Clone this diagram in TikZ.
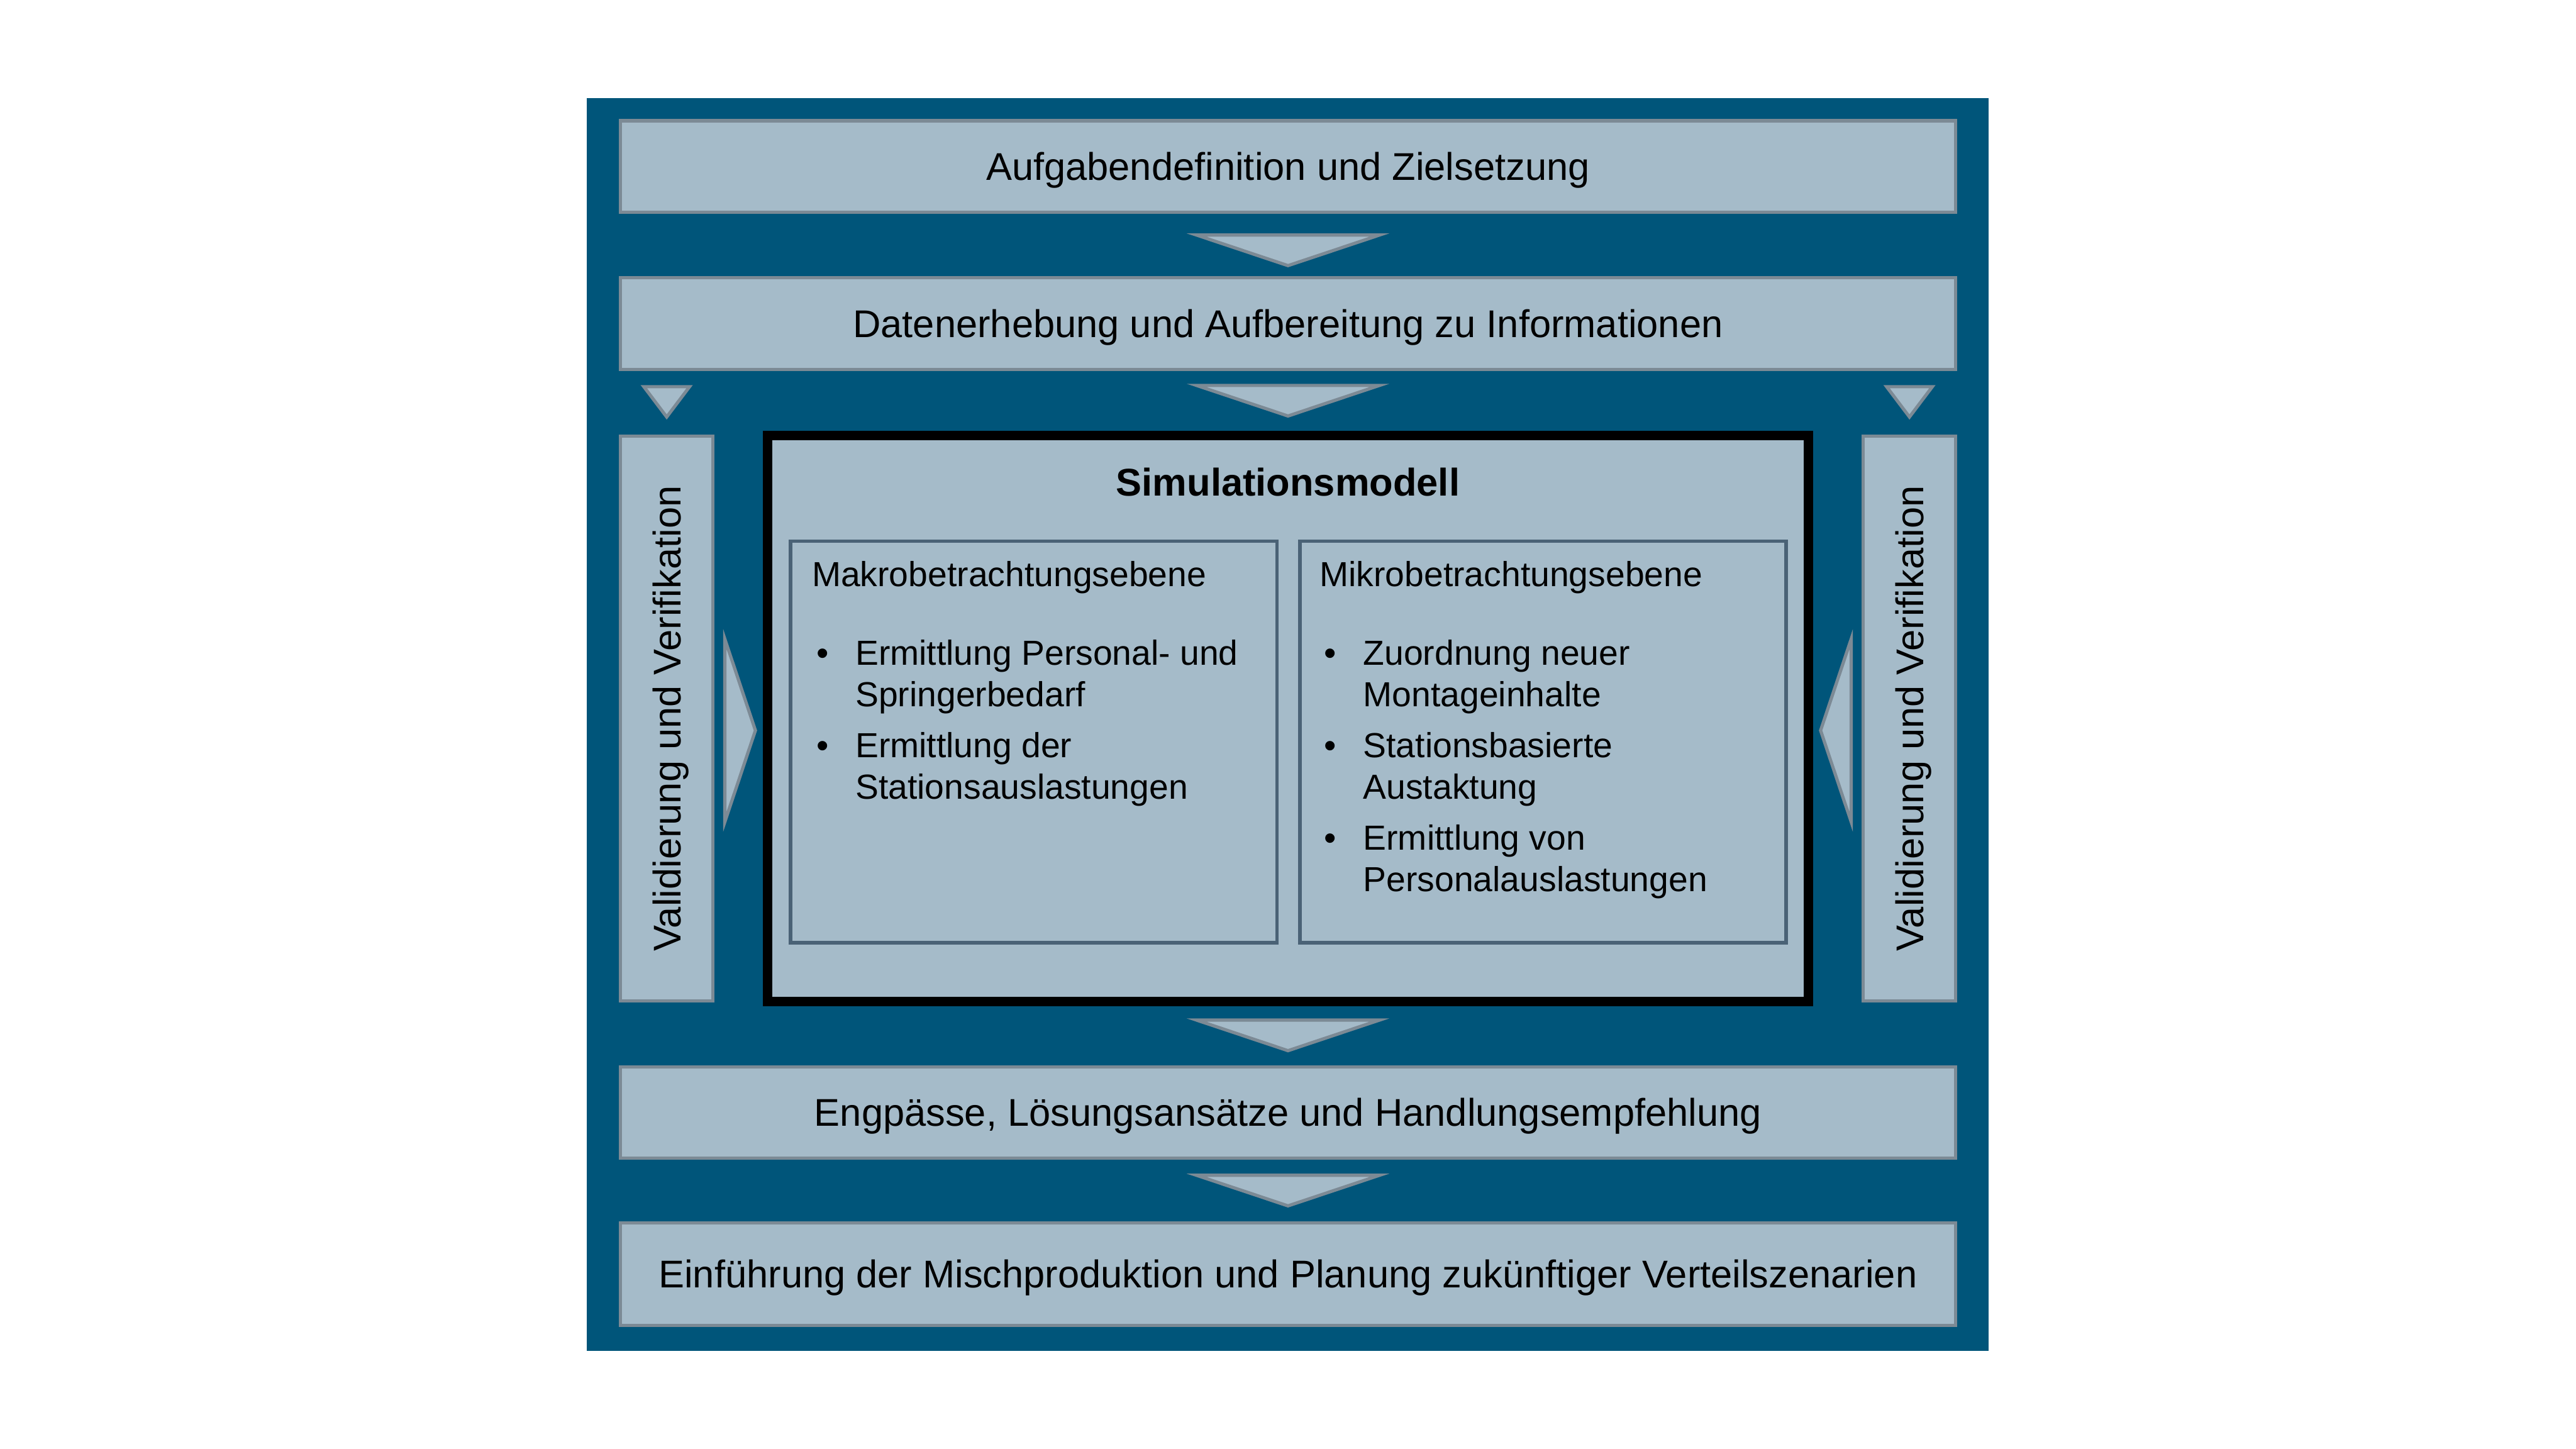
\documentclass[tikz,border=0pt]{standalone}
\usepackage{fontspec}
\setmainfont{Liberation Sans}
\usetikzlibrary{positioning,calc}

\definecolor{petrol}{RGB}{0,85,122}
\definecolor{paleslate}{RGB}{165,187,201}
\definecolor{greyline}{RGB}{124,138,149}
\definecolor{slateline}{RGB}{74,98,118}

\newcommand{\titlesize}{\fontsize{34.14pt}{41pt}\selectfont}
\newcommand{\listsize}{\fontsize{30.73pt}{36.4pt}\selectfont}
\newcommand{\bpoint}{\makebox[1.35cm][l]{\hspace*{0.14cm}\textbullet}}

\tikzset{
  stepbox/.style={draw=greyline, line width=0.1cm, fill=paleslate, inner sep=0pt,
    minimum width=41.46cm, minimum height=2.84cm, font=\titlesize,
    text height=0.86cm, text depth=0pt},
  sidebox/.style={stepbox, rotate=90, minimum width=17.55cm, minimum height=2.87cm},
  simbox/.style={draw=black, line width=0.3cm, fill=paleslate, inner sep=0pt,
    minimum width=32.32cm, minimum height=17.58cm},
  levelbox/.style={draw=slateline, line width=0.11cm, fill=paleslate, inner sep=0pt,
    minimum width=15.1cm, minimum height=12.47cm},
  listtext/.style={inner sep=0pt, font=\listsize},
  tri/.style={draw=greyline, fill=paleslate, line width=0.1cm, line join=miter},
  bigtri/.pic={\draw[tri] (-2.84,0) -- (2.84,0) -- (0,-0.95) -- cycle;},
  smalltri/.pic={\draw[tri] (-0.71,0) -- (0.71,0) -- (0,-0.94) -- cycle;}
}

\begin{document}
\begin{tikzpicture}
    \useasboundingbox (0,0) rectangle (80,45);
    \fill[white] (0,0) rectangle (80,45);
    \fill[petrol] (18.23,3.04) rectangle (61.76,41.95);

    \node[stepbox] (aufgabe) at (40,39.83) {Aufgabendefinition und Zielsetzung};
    \node[stepbox] (daten) [below=1.94cm of aufgabe] {Datenerhebung und Aufbereitung zu Informationen};
    \node[simbox] (sim) [below=1.85cm of daten] {};
    \node[stepbox] (engpass) [below=1.83cm of sim] {Engpässe, Lösungsansätze und Handlungsempfehlung};
    \node[stepbox, minimum height=3.18cm] (einf) [below=1.91cm of engpass] {Einführung der Mischproduktion und Planung zukünftiger Verteilszenarien};

    \node[sidebox] (validl) at (20.705,22.685) {Validierung und Verifikation};
    \node[sidebox] (validr) at (59.30,22.685) {Validierung und Verifikation};

    \node[anchor=base, inner sep=0pt, font=\titlesize\bfseries] (simtitle) at ($(sim.north)+(0,-2.03)$) {Simulationsmodell};

    \node[levelbox, anchor=north west] (makro) at ($(sim.north west)+(0.81,-3.38)$) {};
    \node[levelbox, anchor=north east] (mikro) at ($(sim.north east)+(-0.79,-3.38)$) {};

    \node[listtext, anchor=base west] (makrohead) at ($(makro.north west)+(0.71,-1.47)$) {Makrobetrachtungsebene};
    \node[listtext, anchor=base west] (makrolist) at ($(makro.north west)+(0.71,-3.91)$) {%
        \begin{tabular}[t]{@{}l@{}l@{}}
        \bpoint & Ermittlung Personal- und\\
                & Springerbedarf\\[0.31cm]
        \bpoint & Ermittlung der\\
                & Stationsauslastungen
        \end{tabular}};

    \node[listtext, anchor=base west] (mikrohead) at ($(mikro.north west)+(0.67,-1.47)$) {Mikrobetrachtungsebene};
    \node[listtext, anchor=base west] (mikrolist) at ($(mikro.north west)+(0.67,-3.91)$) {%
        \begin{tabular}[t]{@{}l@{}l@{}}
        \bpoint & Zuordnung neuer\\
                & Montageinhalte\\[0.31cm]
        \bpoint & Stationsbasierte\\
                & Austaktung\\[0.31cm]
        \bpoint & Ermittlung von\\
                & Personalauslastungen
        \end{tabular}};

    \pic at ($(aufgabe.south)+(0,-0.66)$) {bigtri};
    \pic at ($(daten.south)+(0,-0.45)$) {bigtri};
    \pic at ($(sim.south)+(0,-0.43)$) {bigtri};
    \pic at ($(engpass.south)+(0,-0.48)$) {bigtri};

    \pic at ($(validl.east)+(0,1.48)$) {smalltri};
    \pic at ($(validr.east)+(0,1.48)$) {smalltri};

    \pic[rotate=90] at ($(sim.west)+(-1.18,-0.375)$) {bigtri};
    \pic[rotate=-90] at ($(sim.east)+(1.18,-0.375)$) {bigtri};
\end{tikzpicture}
\end{document}
